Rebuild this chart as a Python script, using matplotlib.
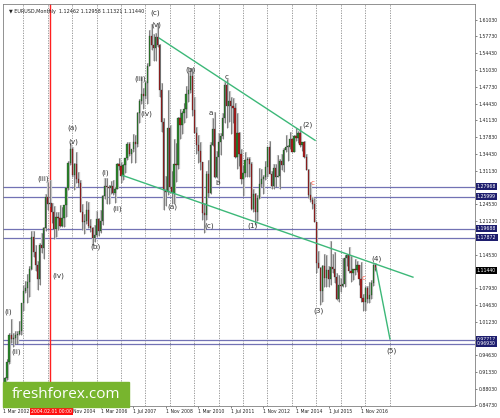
import matplotlib.pyplot as plt
import matplotlib.patches as patches
import numpy as np

# EURUSD monthly bars, Mar 2002 .. Jun 2017 (month index 0 = Jan 2002)
first_month = 2
opens = [0.8700, 0.8720, 0.9020, 0.9330, 0.9870, 0.9780, 0.9800, 0.9870, 0.9880, 0.9940,
         1.0490, 1.0730, 1.0790, 1.0910, 1.1170, 1.1800, 1.1500, 1.1240, 1.0980, 1.1650, 1.1590, 1.1990,
         1.2590, 1.2460, 1.2470, 1.2300, 1.1970, 1.2200, 1.2170, 1.2020, 1.2170, 1.2430, 1.2770, 1.3260,
         1.3550, 1.3040, 1.3240, 1.2960, 1.2870, 1.2300, 1.2100, 1.2120, 1.2330, 1.2020, 1.1990, 1.1790,
         1.1840, 1.2160, 1.1920, 1.2120, 1.2620, 1.2810, 1.2790, 1.2770, 1.2820, 1.2680, 1.2760, 1.3250,
         1.3200, 1.3010, 1.3230, 1.3360, 1.3650, 1.3450, 1.3540, 1.3690, 1.3640, 1.4260, 1.4490, 1.4630,
         1.4590, 1.4860, 1.5180, 1.5790, 1.5600, 1.5550, 1.5760, 1.5600, 1.4710, 1.4080, 1.2740, 1.2690,
         1.3970, 1.2800, 1.2670, 1.3250, 1.3230, 1.4150, 1.4030, 1.4250, 1.4330, 1.4640, 1.4720, 1.4990,
         1.4320, 1.3860, 1.3630, 1.3510, 1.3290, 1.2270, 1.2230, 1.3050, 1.2680, 1.3630, 1.3950, 1.2990,
         1.3380, 1.3690, 1.3810, 1.4160, 1.4810, 1.4400, 1.4500, 1.4390, 1.4360, 1.3390, 1.3860, 1.3440,
         1.2960, 1.3080, 1.3330, 1.3340, 1.3240, 1.2360, 1.2660, 1.2300, 1.2580, 1.2860, 1.2960, 1.2990,
         1.3190, 1.3580, 1.3060, 1.2820, 1.3170, 1.3000, 1.3010, 1.3300, 1.3220, 1.3520, 1.3580, 1.3590,
         1.3740, 1.3490, 1.3810, 1.3770, 1.3870, 1.3630, 1.3690, 1.3390, 1.3130, 1.2630, 1.2530, 1.2450,
         1.2100, 1.1290, 1.1200, 1.0730, 1.1220, 1.0990, 1.1150, 1.0980, 1.1210, 1.1180, 1.1010, 1.0570,
         1.0860, 1.0830, 1.0870, 1.1380, 1.1450, 1.1130, 1.1100, 1.1170, 1.1160, 1.1240, 1.0980, 1.0590,
         1.0520, 1.0800, 1.0570, 1.0650, 1.0900, 1.12462]
highs = [0.8836, 0.9028, 0.9384, 0.9910, 1.0185, 0.9900, 0.9950, 0.9950, 1.0140, 1.0500,
         1.0860, 1.0940, 1.1080, 1.1230, 1.1930, 1.1930, 1.1640, 1.1320, 1.1680, 1.1880, 1.2000, 1.2650,
         1.2900, 1.2930, 1.2480, 1.2420, 1.2300, 1.2290, 1.2430, 1.2390, 1.2430, 1.2800, 1.3300, 1.3667,
         1.3580, 1.3270, 1.3480, 1.3100, 1.2940, 1.2450, 1.2260, 1.2510, 1.2500, 1.2160, 1.2010, 1.2040,
         1.2320, 1.2170, 1.2330, 1.2630, 1.2980, 1.2980, 1.2840, 1.2920, 1.2930, 1.2790, 1.3260, 1.3370,
         1.3280, 1.3250, 1.3370, 1.3680, 1.3680, 1.3530, 1.3850, 1.3830, 1.4270, 1.4530, 1.4970, 1.4760,
         1.4900, 1.5240, 1.5900, 1.6020, 1.5820, 1.5840, 1.6038, 1.5620, 1.4860, 1.4150, 1.3020, 1.4720,
         1.4020, 1.3110, 1.3740, 1.3660, 1.4170, 1.4340, 1.4290, 1.4450, 1.4800, 1.5060, 1.5145, 1.5140,
         1.4580, 1.3990, 1.3820, 1.3690, 1.3290, 1.2480, 1.3110, 1.3330, 1.3680, 1.4160, 1.4282, 1.3500,
         1.3860, 1.3860, 1.4250, 1.4880, 1.4940, 1.4700, 1.4580, 1.4550, 1.4460, 1.4250, 1.3880, 1.3550,
         1.3230, 1.3490, 1.3390, 1.3380, 1.3280, 1.2750, 1.2670, 1.2640, 1.3170, 1.3140, 1.3030, 1.3310,
         1.3580, 1.3710, 1.3110, 1.3240, 1.3240, 1.3420, 1.3340, 1.3450, 1.3570, 1.3830, 1.3620, 1.3890,
         1.3740, 1.3830, 1.3970, 1.3900, 1.3993, 1.3680, 1.3700, 1.3440, 1.3150, 1.2890, 1.2600, 1.2570,
         1.2100, 1.1530, 1.1210, 1.1240, 1.1470, 1.1440, 1.1220, 1.1715, 1.1460, 1.1500, 1.1100, 1.1060,
         1.0990, 1.1380, 1.1440, 1.1460, 1.1615, 1.1430, 1.1180, 1.1370, 1.1330, 1.1240, 1.1300, 1.0680,
         1.0830, 1.0830, 1.0910, 1.0950, 1.1270, 1.12958]
lows = [0.8676, 0.8745, 0.8980, 0.9300, 0.9700, 0.9630, 0.9690, 0.9690, 0.9860, 0.9860,
        1.0340, 1.0690, 1.0500, 1.0620, 1.1150, 1.1410, 1.1140, 1.0760, 1.0860, 1.1480, 1.1370, 1.1930,
        1.2340, 1.2390, 1.2080, 1.1760, 1.1800, 1.1950, 1.2010, 1.2010, 1.2000, 1.2200, 1.2740, 1.3230,
        1.2990, 1.2730, 1.2870, 1.2790, 1.2300, 1.1950, 1.1860, 1.2060, 1.1990, 1.1910, 1.1640, 1.1710,
        1.1800, 1.1820, 1.1880, 1.2050, 1.2560, 1.2460, 1.2460, 1.2660, 1.2640, 1.2480, 1.2750, 1.3120,
        1.2870, 1.2930, 1.3070, 1.3320, 1.3410, 1.3260, 1.3490, 1.3260, 1.3580, 1.4050, 1.4440, 1.4330,
        1.4530, 1.4440, 1.5180, 1.5510, 1.5290, 1.5290, 1.5560, 1.4580, 1.3880, 1.2330, 1.2420, 1.2640,
        1.2750, 1.2460, 1.2460, 1.2890, 1.3140, 1.3740, 1.3850, 1.4050, 1.4150, 1.4480, 1.4660, 1.4200,
        1.3860, 1.3440, 1.3270, 1.3120, 1.2140, 1.1876, 1.2150, 1.2590, 1.2650, 1.3610, 1.2970, 1.2970,
        1.2870, 1.3430, 1.3750, 1.4050, 1.3970, 1.4080, 1.3840, 1.4060, 1.3360, 1.3150, 1.3210, 1.2860,
        1.2620, 1.3000, 1.3000, 1.2990, 1.2330, 1.2290, 1.2042, 1.2130, 1.2560, 1.2800, 1.2660, 1.2930,
        1.2990, 1.3050, 1.2750, 1.2750, 1.2800, 1.2990, 1.2760, 1.3130, 1.3100, 1.3490, 1.3300, 1.3540,
        1.3480, 1.3480, 1.3700, 1.3670, 1.3590, 1.3500, 1.3370, 1.3120, 1.2570, 1.2500, 1.2350, 1.2100,
        1.1100, 1.1190, 1.0462, 1.0520, 1.0820, 1.0820, 1.0810, 1.0850, 1.1090, 1.0900, 1.0560, 1.0520,
        1.0710, 1.0810, 1.0810, 1.1220, 1.1100, 1.0910, 1.0950, 1.1050, 1.1120, 1.0850, 1.0510, 1.0340,
        1.0340, 1.0490, 1.0490, 1.0570, 1.0840, 1.11321]
closes = [0.8720, 0.9020, 0.9330, 0.9870, 0.9780, 0.9800, 0.9870, 0.9880, 0.9940, 1.0490,
          1.0730, 1.0790, 1.0910, 1.1170, 1.1800, 1.1500, 1.1240, 1.0980, 1.1650, 1.1590, 1.1990, 1.2590,
          1.2460, 1.2470, 1.2300, 1.1970, 1.2200, 1.2170, 1.2020, 1.2170, 1.2430, 1.2770, 1.3260, 1.3550,
          1.3040, 1.3240, 1.2960, 1.2870, 1.2300, 1.2100, 1.2120, 1.2330, 1.2020, 1.1990, 1.1790, 1.1840,
          1.2160, 1.1920, 1.2120, 1.2620, 1.2810, 1.2790, 1.2770, 1.2820, 1.2680, 1.2760, 1.3250, 1.3200,
          1.3010, 1.3230, 1.3360, 1.3650, 1.3450, 1.3540, 1.3690, 1.3640, 1.4260, 1.4490, 1.4630, 1.4590,
          1.4860, 1.5180, 1.5790, 1.5600, 1.5550, 1.5760, 1.5600, 1.4710, 1.4080, 1.2740, 1.2690, 1.3970,
          1.2800, 1.2670, 1.3250, 1.3230, 1.4150, 1.4030, 1.4250, 1.4330, 1.4640, 1.4720, 1.4990, 1.4320,
          1.3860, 1.3630, 1.3510, 1.3290, 1.2270, 1.2230, 1.3050, 1.2680, 1.3630, 1.3950, 1.2990, 1.3380,
          1.3690, 1.3810, 1.4160, 1.4810, 1.4400, 1.4500, 1.4390, 1.4360, 1.3390, 1.3860, 1.3440, 1.2960,
          1.3080, 1.3330, 1.3340, 1.3240, 1.2360, 1.2660, 1.2300, 1.2580, 1.2860, 1.2960, 1.2990, 1.3190,
          1.3580, 1.3060, 1.2820, 1.3170, 1.3000, 1.3010, 1.3300, 1.3220, 1.3520, 1.3580, 1.3590, 1.3740,
          1.3490, 1.3810, 1.3770, 1.3870, 1.3630, 1.3690, 1.3390, 1.3130, 1.2630, 1.2530, 1.2450, 1.2100,
          1.1290, 1.1200, 1.0730, 1.1220, 1.0990, 1.1150, 1.0980, 1.1210, 1.1180, 1.1010, 1.0570, 1.0860,
          1.0830, 1.0870, 1.1380, 1.1450, 1.1130, 1.1100, 1.1170, 1.1160, 1.1240, 1.0980, 1.0590, 1.0520,
          1.0800, 1.0570, 1.0650, 1.0900, 1.1240, 1.11440]

# horizontal levels with their boxed price tags
levels = [1.27968, 1.25999, 1.19688, 1.17872, 0.97717, 0.96930]
current_price = 1.11440
price_ticks = [1.61030, 1.57730, 1.54430, 1.51030, 1.47730, 1.44430, 1.41130, 1.37830,
               1.34430, 1.31130, 1.24530, 1.21230, 1.14530, 1.07930, 1.04630, 1.01230,
               0.94630, 0.91330, 0.88030, 0.84730]

# "1 Nov 2004" is partly hidden by the red time tag, only "Nov 2004" shows
date_ticks = [2, 36.3, 50, 66, 82, 98, 114, 130, 146, 162, 178]
date_labels = ['1 Mar 2002', 'Nov 2004', '1 Mar 2006', '1 Jul 2007', '1 Nov 2008',
               '1 Mar 2010', '1 Jul 2011', '1 Nov 2012', '1 Mar 2014', '1 Jul 2015', '1 Nov 2016']
marker_month = 25  # 2004.02.01

# elliott wave labels (month index, price, text)
wave_x = [76.8, 77.3, 69.4, 72.4, 94.0, 104.3, 111.7, 36.1, 36.5, 21.8, 29.2, 47.3, 52.3,
          58.2, 85.2, 103.3, 107.3, 124.5, 151.5, 156.9, 185.4, 193.2, 4.6, 8.5]
wave_y = [1.6247, 1.6010, 1.4943, 1.4251, 1.5121, 1.4251, 1.4962, 1.3974, 1.3697, 1.2966,
          1.1029, 1.1604, 1.3066, 1.2354, 1.2393, 1.2018, 1.2868, 1.2018, 1.4034, 1.0337,
          1.1365, 0.9547, 1.0317, 0.9527]
wave_txt = ['(c)', '(v)', '(iii)', '(iv)', '(b)', 'a', 'c', '(a)', '(v)', '(iii)', '(iv)', '(b)',
            '(i)', '(ii)', '(a)', '(c)', 'b', '(1)', '(2)', '(3)', '(4)', '(5)', '(i)', '(ii)']

# trend lines as (x0, y0, x1, y1)
trend_lines = [(78.8, 1.5739, 155.4, 1.3717),
               (60.6, 1.3025, 203.5, 1.1009),
               (185.4, 1.1187, 192.2, 0.9784)]

fig = plt.figure(figsize=(5, 4.18), dpi=100)
ax = fig.add_axes([3 / 500, 12 / 418, 472 / 500, 402 / 418])

o = np.array(opens)
h = np.array(highs)
l = np.array(lows)
c = np.array(closes)
x = np.arange(len(o)) + first_month

# yearly dotted grid
for gx in range(12, 200, 12):
    ax.axvline(gx, color='#8a8a8a', lw=0.6, ls=(0, (1.5, 1.5)), zorder=0)

for lv in levels:
    ax.axhline(lv, color='#7272b4', lw=0.9, zorder=1)

ax.axvline(marker_month, color='#ff2020', lw=1.0, zorder=1)

# candles
ax.vlines(x + 0.35, l, h, color='#c8c8c8', lw=1.6, zorder=2)
ax.vlines(x, l, h, color='#555555', lw=0.45, zorder=3)
up = c >= o
body_lo = np.minimum(o, c)
body_h = np.maximum(np.abs(c - o), 0.002)
ax.bar(x[up], body_h[up], bottom=body_lo[up], width=0.6, color='#2a8a2a',
       edgecolor='#222222', linewidth=0.2, zorder=4)
ax.bar(x[~up], body_h[~up], bottom=body_lo[~up], width=0.6, color='#b01c1c',
       edgecolor='#222222', linewidth=0.2, zorder=4)

for x0, y0, x1, y1 in trend_lines:
    ax.plot([x0, x1], [y0, y1], color='#3cb878', lw=1.0, zorder=5)

for wx, wy, wt in zip(wave_x, wave_y, wave_txt):
    ax.text(wx, wy, wt, fontsize=5.2, color='#333333', ha='center', va='center', zorder=6)

ax.text(154.4, 1.2872, 'c', fontsize=5.2, color='#ff6050', ha='center', va='center', zorder=6)
ax.text(179.4, 1.1000, 'c', fontsize=5.2, color='#ff6050', ha='center', va='center', zorder=6)

ax.text(0.012, 0.988, '\u25bc EURUSD,Monthly  1.12462 1.12958 1.11321 1.11440',
        transform=ax.transAxes, fontsize=3.5, ha='left', va='top', color='#222222')

ax.set_xlim(2.16, 234.0)
ax.set_ylim(0.8459, 1.6415)

ax.yaxis.tick_right()
ax.set_yticks(price_ticks)
ax.set_yticklabels([f'{v:.5f}' for v in price_ticks])
ax.tick_params(axis='y', labelsize=3.3, length=1.5, width=0.4, pad=1, colors='#222222')
ax.set_xticks(date_ticks)
ax.set_xticklabels(date_labels)
ax.tick_params(axis='x', labelsize=3.3, length=1.5, width=0.4, pad=1, colors='#222222')
for lab in ax.get_xticklabels():
    lab.set_horizontalalignment('left')

for sp in ax.spines.values():
    sp.set_color('#808080')
    sp.set_linewidth(0.6)

# price tags on the right axis
ytr = ax.get_yaxis_transform()
for lv in levels:
    ax.text(1.004, lv, f'{lv:.5f}', transform=ytr, fontsize=3.3, color='white',
            ha='left', va='center', clip_on=False, zorder=7,
            bbox=dict(boxstyle='square,pad=0.25', fc='#1e1e6e', ec='none'))
ax.text(1.004, current_price, f'{current_price:.5f}', transform=ytr, fontsize=3.3, color='white',
        ha='left', va='center', clip_on=False, zorder=7,
        bbox=dict(boxstyle='square,pad=0.25', fc='#000000', ec='none'))

# red time tag under the vertical line
xtr = ax.get_xaxis_transform()
ax.text(marker_month - 9.3, -0.008, '2004.02.01 00:00', transform=xtr, fontsize=3.3, color='white',
        ha='left', va='top', clip_on=False, zorder=7,
        bbox=dict(boxstyle='square,pad=0.25', fc='#ff1010', ec='none'))

# logo
fig.patches.append(patches.Rectangle((3 / 500, 11 / 418), 126 / 500, 25 / 418,
                                     transform=fig.transFigure, color='#78b52e', zorder=10))
fig.text(66 / 500, 23.5 / 418, 'freshforex.com', fontsize=11, color='white',
         family=['Open Sans', 'DejaVu Sans'], ha='center', va='center', zorder=11)

fig.savefig('out.png', dpi=100)
